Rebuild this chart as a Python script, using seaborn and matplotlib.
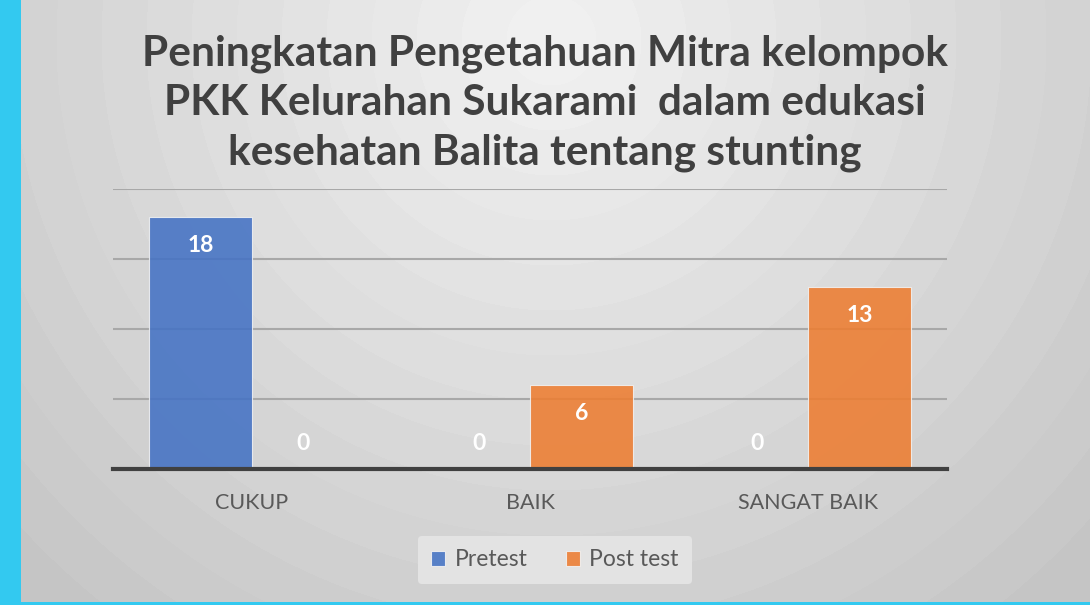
import numpy as np
import pandas as pd
import seaborn as sns
from matplotlib import pyplot as plt

# data
categories = ["CUKUP", "BAIK", "SANGAT BAIK"]
pretest = [18, 0, 0]
posttest = [0, 6, 13]
series = ["Pretest", "Post test"]

df = pd.DataFrame({"kategori": categories, "Pretest": pretest, "Post test": posttest})
df_long = df.melt(id_vars="kategori", var_name="seri", value_name="nilai")

sns.set_theme(style="white")
plt.rcParams['font.family'] = ['Lato', 'DejaVu Sans']

fig = plt.figure(figsize=(10.9, 6.05), dpi=100)
fig.patch.set_facecolor("#33c9f0")

# background with radial gradient (banded like the original)
bg = fig.add_axes([21 / 1090, 3 / 605, 1 - 21 / 1090, 602 / 605])
h, w = 602, 1069
yy, xx = np.mgrid[0:h, 0:w]
r = np.sqrt((xx - 530) ** 2 + (yy - 40) ** 2) / 720
r = np.clip(np.floor(r * 16) / 16, 0, 1)
g = 0.945 - 0.17 * r
bg.imshow(np.dstack([g, g, g]), aspect="auto", extent=[0, w, h, 0])
bg.axis("off")

ax = fig.add_axes([113 / 1090, 136 / 605, 834 / 1090, 280 / 605])
ax.patch.set_alpha(0)
sns.barplot(data=df_long, x="kategori", y="nilai", hue="seri", hue_order=series,
            palette=["#4472c4", "#ed7d31"], saturation=1, width=0.74, alpha=0.88,
            edgecolor="#f2f2f2", linewidth=0.8, ax=ax, legend=True, zorder=3)

ax.set_ylim(0, 20)
ax.set_xlim(-0.5, 2.5)
ax.set_yticks([0, 5, 10, 15, 20])
ax.yaxis.grid(True, color="#a8a8a8", linewidth=1.5, zorder=0)
ax.set_yticklabels([])
ax.tick_params(axis="y", length=0)
ax.tick_params(axis="x", length=0, labelsize=15.5, labelcolor="#595959", pad=17)
ax.set_xlabel("")
ax.set_ylabel("")
for s in ["top", "right", "left"]:
    ax.spines[s].set_visible(False)
ax.spines["bottom"].set_color("#404040")
ax.spines["bottom"].set_linewidth(3)
ax.spines["bottom"].set_zorder(5)

# value labels
for cont in ax.containers:
    for bar in cont:
        v = bar.get_height()
        off = -28 if v > 0 else 26
        ax.annotate(f"{v:.0f}", (bar.get_x() + bar.get_width() / 2, v),
                    xytext=(0, off), textcoords="offset pixels",
                    ha="center", va="center", color="white", fontsize=16.5,
                    fontweight="bold", zorder=6)

leg = ax.legend(loc="center", bbox_to_anchor=(555 / 1090, 45 / 605),
                bbox_transform=fig.transFigure, ncol=2, frameon=True,
                fontsize=16.5, handlelength=0.6, handleheight=0.6,
                handletextpad=0.4, columnspacing=1.7, borderpad=0.6)
leg.get_frame().set_facecolor("#e3e3e3")
leg.get_frame().set_edgecolor("none")
leg.get_frame().set_alpha(1)
for t in leg.get_texts():
    t.set_color("#595959")

fig.text(545 / 1090, 1 - 103 / 605,
         "Peningkatan Pengetahuan Mitra kelompok\nPKK Kelurahan Sukarami  dalam edukasi\nkesehatan Balita tentang stunting",
         ha="center", va="center", fontsize=30.5, fontweight="bold",
         color="#404040", linespacing=1.36)

plt.savefig("out.png", dpi=100)
